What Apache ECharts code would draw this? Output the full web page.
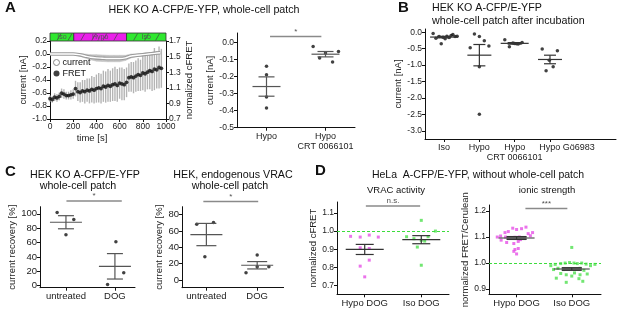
<!DOCTYPE html>
<html>
<head>
<meta charset="utf-8">
<script src="https://cdn.jsdelivr.net/npm/echarts@6/dist/echarts.min.js"></script>
<style>
  html, body { margin: 0; padding: 0; background: #fff; }
  #chart { width: 617px; height: 310px; }
</style>
</head>
<body>
<div id="chart"></div>
<script>
var FONT = 'Liberation Sans';

// ---- A, time course ----
var phaseStart = [0, 205, 660];
var phaseEnd = [205, 660, 1000];
var phaseName = ['Iso', 'Hypo', 'Iso'];

var curTime = [0, 50, 100, 150, 200, 250, 300, 350, 400, 450, 500, 550, 600, 650, 700, 750, 800, 850, 900, 950];
var curVal = [0.0, 0.0, 0.0, 0.0, 0.0, -0.01, -0.03, -0.05, -0.06, -0.065, -0.07, -0.07, -0.07, -0.06, -0.03, -0.02, -0.01, 0.0, 0.01, 0.02];
var curErr = [0.01, 0.01, 0.01, 0.01, 0.01, 0.02, 0.03, 0.04, 0.05, 0.05, 0.05, 0.05, 0.05, 0.04, 0.03, 0.02, 0.02, 0.02, 0.02, 0.02];

var fretTime = [0, 20, 40, 60, 80, 100, 120, 140, 160, 180, 200, 220, 240, 260, 280, 300, 320, 340, 360, 380,
  400, 420, 440, 460, 480, 500, 520, 540, 560, 580, 600, 620, 640, 660, 680, 700, 720, 740, 760, 780,
  800, 820, 840, 860, 880, 900, 920, 940, 960];
var fretVal = [0.96, 0.95, 0.98, 0.97, 0.99, 1.03, 1.02, 1.00, 1.00, 1.01, 1.02, 1.09, 1.05, 1.04, 1.06, 1.05, 1.07, 1.06, 1.08, 1.07,
  1.09, 1.10, 1.09, 1.12, 1.11, 1.13, 1.12, 1.14, 1.15, 1.13, 1.16, 1.15, 1.14, 1.17, 1.23, 1.24, 1.23, 1.25, 1.27, 1.26,
  1.29, 1.28, 1.30, 1.32, 1.31, 1.34, 1.33, 1.36, 1.35];
var fretErr = [0.04, 0.04, 0.05, 0.05, 0.05, 0.06, 0.06, 0.05, 0.05, 0.06, 0.06, 0.10,
  0.12, 0.13, 0.14, 0.15, 0.15, 0.16, 0.17, 0.17, 0.18, 0.19, 0.19, 0.20, 0.20, 0.21, 0.20, 0.21, 0.22, 0.21, 0.20, 0.21, 0.20, 0.19,
  0.18, 0.19, 0.20, 0.20, 0.21, 0.20, 0.22, 0.23, 0.22, 0.24, 0.25, 0.27, 0.24, 0.27, 0.25];

// ---- A, right ----
var aCats = ['Hypo', 'Hypo\nCRT 0066101'];
var aHypo = [-0.14, -0.19, -0.32, -0.385];
var aHypoJit = [0, 0, 0, 0];
var aCrt = [-0.024, -0.053, -0.092, -0.062, -0.115];
var aCrtJit = [-0.21, 0.22, -0.1, 0, 0.12];

// ---- B ----
var bCats = ['Iso', 'Hypo', 'Hypo\nCRT 0066101', 'Hypo Gö6983'];
var bIso = [-0.04, -0.18, -0.13, -0.35, -0.15, -0.2, -0.12, -0.16, -0.1, -0.07, -0.13, -0.12];
var bIsoJit = [-0.31, -0.23, -0.14, -0.08, -0.03, 0.03, 0.08, 0.14, 0.2, 0.25, 0.31, 0.37];
var bHypo = [-0.05, -0.13, -0.26, -0.42, -0.47, -1.05, -2.5];
var bHypoJit = [-0.14, 0, 0.14, 0.27, -0.26, 0, 0];
var bCrt = [-0.23, -0.44, -0.31, -0.33, -0.35, -0.36, -0.34];
var bCrtJit = [-0.28, -0.15, 0.21, -0.05, 0.05, 0.1, 0];
var bGo = [-0.51, -0.56, -0.85, -1.17, -1.05];
var bGoJit = [-0.22, 0.21, -0.02, -0.11, 0.09];

// ---- C ----
var cCats = ['untreated', 'DOG'];
var c1Untr = [102, 92, 71];
var c1UntrJit = [-0.18, 0.16, 0];
var c1Dog = [61, 18, 1.5];
var c1DogJit = [0.02, 0.18, -0.15];
var c2Untr = [68, 70.3, 28.4];
var c2UntrJit = [-0.19, 0.14, -0.03];
var c2Dog = [30.5, 16.3, 16.3, 9];
var c2DogJit = [0, 0, 0.23, -0.22];

// ---- D ----
var dCats = ['Hypo DOG', 'Iso DOG'];
var d1Hypo = [0.971, 0.967, 0.978, 0.967, 0.908, 0.904, 0.84, 0.807, 0.748];
var d1HypoJit = [-0.25, -0.08, 0.08, 0.24, -0.08, 0.08, 0.08, -0.08, 0];
var d1Iso = [1.059, 0.969, 0.958, 0.949, 0.969, 0.945, 0.912, 0.812, 1.0];
var d1IsoJit = [0, -0.26, -0.13, 0, 0.12, 0.06, -0.07, 0, 0.25];
var d2Hypo = [1.104, 1.117, 1.121, 1.134, 1.129, 1.132, 1.138, 1.113, 1.117, 1.10,
  1.100, 1.097, 1.100, 1.097, 1.099, 1.105,
  1.079, 1.075, 1.083, 1.090, 1.052, 1.056, 1.045, 1.035, 1.088];
var d2HypoJit = [-0.29, -0.21, -0.15, -0.07, 0, 0.09, 0.17, 0.21, 0.29, -0.35,
  -0.2, -0.1, 0.05, 0.14, -0.03, 0.25,
  -0.18, -0.05, 0.03, 0.07, -0.03, 0.03, -0.05, 0, -0.28];
var d2Iso = [1.060,
  0.99, 0.995, 0.998, 1.0, 1.002, 1.0, 0.998, 1.0, 0.996, 0.99, 0.995,
  0.98, 0.975, 0.978, 0.975, 0.98, 0.972, 0.975,
  0.955, 0.95, 0.955, 0.942, 0.94, 0.926, 0.93, 0.962, 0.96, 0.958];
var d2IsoJit = [0,
  -0.38, -0.3, -0.2, -0.12, -0.04, 0.04, 0.1, 0.18, 0.26, 0.34, 0.42,
  -0.25, -0.15, -0.05, 0.05, 0.15, 0.22, -0.33,
  -0.1, 0, 0.15, -0.28, 0.13, -0.1, 0.2, 0.05, -0.2, 0.28];

// significance brackets: [x1, x2, y, text]
var sigA = [0.06, 0.93, 0.035, '*'];
var sigC1 = [0.01, 1.14, 118, '*'];
var sigC2 = [-0.06, 1.02, 96, '*'];
var sigD1 = [0.02, 0.98, 1.138, 'n.s.'];
var sigD2 = [0.16, 0.92, 1.21, '***'];

function meanSem(vals) {
  var n = vals.length, m = 0, s = 0;
  vals.forEach(function (v) { m += v; });
  m /= n;
  vals.forEach(function (v) { s += (v - m) * (v - m); });
  return [m, Math.sqrt(s / (n - 1)) / Math.sqrt(n)];
}
function pts(vals, jit, idx) {
  return vals.map(function (v, i) { return [idx + jit[i], v]; });
}
function errItem(vals, idx) {
  var ms = meanSem(vals);
  return [idx, ms[0], ms[1]];
}
function fmt1(v) { if (Math.abs(v) < 1e-9) v = 0; return v.toFixed(1); }

function errBar(meanHalf, capHalf, color, boxFill) {
  return function (params, api) {
    var x = api.value(0), m = api.value(1), s = api.value(2);
    var c = api.coord([x, m]), t = api.coord([x, m + s]), b = api.coord([x, m - s]);
    var st = { stroke: color, lineWidth: 1.2 };
    var ch = [];
    if (boxFill) ch.push({ type: 'rect', shape: { x: c[0] - capHalf, y: t[1], width: capHalf * 2, height: b[1] - t[1] }, style: { fill: boxFill } });
    ch.push({ type: 'line', shape: { x1: c[0], y1: t[1], x2: c[0], y2: b[1] }, style: st });
    ch.push({ type: 'line', shape: { x1: c[0] - capHalf, y1: t[1], x2: c[0] + capHalf, y2: t[1] }, style: st });
    ch.push({ type: 'line', shape: { x1: c[0] - capHalf, y1: b[1], x2: c[0] + capHalf, y2: b[1] }, style: st });
    ch.push({ type: 'line', shape: { x1: c[0] - meanHalf, y1: c[1], x2: c[0] + meanHalf, y2: c[1] }, style: st });
    return { type: 'group', children: ch };
  };
}

function axis(grid, o) {
  var a = {
    type: 'value', gridIndex: grid, min: o.min, max: o.max,
    name: o.name || '', nameLocation: 'middle', nameGap: o.nameGap || 20,
    nameTextStyle: { fontFamily: FONT, fontSize: 9.5, color: '#222', padding: o.namePad || 0 },
    axisLine: { show: true, onZero: false, lineStyle: { color: '#111', width: 1 } },
    axisTick: { show: true, length: 3, lineStyle: { color: '#111' } },
    axisLabel: { fontFamily: FONT, fontSize: o.fs || 8.5, color: '#222', margin: o.margin || 3, lineHeight: 10,
      hideOverlap: false, showMinLabel: true, showMaxLabel: true },
    splitLine: { show: false }
  };
  if (o.position) a.position = o.position;
  if (o.show === false) a.show = false;
  if (o.interval) a.interval = o.interval;
  if (o.fmt) a.axisLabel.formatter = o.fmt;
  if (o.ticks) {
    a.axisTick.customValues = o.ticks;
    a.axisLabel.customValues = o.labels || o.ticks;
  }
  if (o.labelOnly) {
    a.axisLine.show = false;
    a.axisTick.show = false;
  }
  return a;
}
function catFmt(cats) {
  return function (v) { return cats[Math.min(cats.length - 1, Math.round(v))]; };
}

function scatter(xi, yi, data, color, sym, size) {
  return { type: 'scatter', xAxisIndex: xi, yAxisIndex: yi, data: data, symbol: sym || 'circle',
    symbolSize: size || 3.5, itemStyle: { color: color }, silent: true, z: 3 };
}
function errSeries(xi, yi, data, meanHalf, capHalf, color, box) {
  return { type: 'custom', xAxisIndex: xi, yAxisIndex: yi, data: data, silent: true, z: 4,
    renderItem: errBar(meanHalf, capHalf, color, box) };
}
function sigSeries(xi, yi, s) {
  return [
    { type: 'line', xAxisIndex: xi, yAxisIndex: yi, data: [[s[0], s[2]], [s[1], s[2]]], clip: false,
      symbol: 'none', silent: true, lineStyle: { color: '#8a8a8a', width: 1.5 } },
    { type: 'scatter', xAxisIndex: xi, yAxisIndex: yi, data: [[(s[0] + s[1]) / 2, s[2]]], clip: false,
      symbolSize: 0, silent: true,
      label: { show: true, position: 'top', distance: 1, formatter: s[3], fontFamily: FONT, fontSize: 8, color: '#222' } }
  ];
}

var chart = echarts.init(document.getElementById('chart'));

// band segments between consecutive current samples
var bandSeg = [];
for (var i = 0; i < curTime.length - 1; i++) {
  bandSeg.push([curTime[i], curTime[i + 1], curVal[i] - curErr[i], curVal[i] + curErr[i],
    curVal[i + 1] - curErr[i + 1], curVal[i + 1] + curErr[i + 1]]);
}

var series = [
  // A time course
  { type: 'custom', name: 'band', xAxisIndex: 0, yAxisIndex: 0, data: bandSeg, silent: true,
    encode: { x: [0, 1], y: [2, 3, 4, 5] },
    renderItem: function (params, api) {
      var a = api.coord([api.value(0), api.value(2)]), b = api.coord([api.value(0), api.value(3)]);
      var c = api.coord([api.value(1), api.value(5)]), d = api.coord([api.value(1), api.value(4)]);
      return { type: 'polygon', shape: { points: [a, b, c, d] }, style: { fill: '#c2c2c2', stroke: '#c2c2c2', lineWidth: 0.5 } };
    } },
  { type: 'line', name: 'current', xAxisIndex: 0, yAxisIndex: 0, data: curVal.map(function (v, i) { return [curTime[i], v]; }),
    symbol: 'none', smooth: 0.3, lineStyle: { color: '#9a9a9a', width: 3.5 }, itemStyle: { color: '#9a9a9a' }, silent: true },
  { type: 'line', name: 'currentInner', xAxisIndex: 0, yAxisIndex: 0, data: curVal.map(function (v, i) { return [curTime[i], v]; }),
    symbol: 'none', smooth: 0.3, lineStyle: { color: '#fff', width: 1.4 }, silent: true },
  { type: 'custom', name: 'fretErr', xAxisIndex: 0, yAxisIndex: 1, silent: true,
    data: fretVal.map(function (v, i) { return [fretTime[i], v, fretErr[i]]; }),
    renderItem: function (params, api) {
      var t = api.coord([api.value(0), api.value(1) + api.value(2)]);
      var b = api.coord([api.value(0), api.value(1) - api.value(2)]);
      return { type: 'line', shape: { x1: t[0], y1: t[1], x2: b[0], y2: b[1] }, style: { stroke: '#b4b4b4', lineWidth: 1.4 } };
    } },
  { type: 'scatter', name: 'FRET', xAxisIndex: 0, yAxisIndex: 1, data: fretVal.map(function (v, i) { return [fretTime[i], v]; }),
    symbolSize: 3.8, itemStyle: { color: '#111' }, silent: true, z: 3 },
  { type: 'custom', name: 'phase', xAxisIndex: 1, yAxisIndex: 2, silent: true,
    data: phaseStart.map(function (s, i) { return [s, phaseEnd[i]]; }),
    renderItem: function (params, api) {
      var s = api.coord([api.value(0), 1]), e = api.coord([api.value(1), 0]);
      var name = phaseName[params.dataIndex];
      var ch = [{ type: 'rect', shape: { x: s[0], y: s[1], width: e[0] - s[0], height: e[1] - s[1] },
        style: { fill: name === 'Hypo' ? '#ea1fea' : '#2fe82f', stroke: '#333', lineWidth: 0.8 } }];
      for (var hx = s[0] + 7; hx < e[0] - 5; hx += 11) {
        ch.push({ type: 'line', shape: { x1: hx, y1: e[1] - 0.5, x2: hx + 4, y2: s[1] + 0.5 }, style: { stroke: '#444', lineWidth: 0.7 } });
      }
      ch.push({ type: 'text', x: (s[0] + e[0]) / 2, y: (s[1] + e[1]) / 2,
        style: { text: name, align: 'center', verticalAlign: 'middle', textAlign: 'center', textVerticalAlign: 'middle',
          fontFamily: FONT, fontSize: 7, fill: '#555' } });
      return { type: 'group', children: ch };
    } },

  // A right
  scatter(2, 3, pts(aHypo, aHypoJit, 0).concat(pts(aCrt, aCrtJit, 1)), '#111'),
  errSeries(2, 3, [errItem(aHypo, 0), errItem(aCrt, 1)], 14, 8, '#555'),

  // B
  scatter(3, 4, pts(bIso, bIsoJit, 0).concat(pts(bHypo, bHypoJit, 1), pts(bCrt, bCrtJit, 2), pts(bGo, bGoJit, 3)), '#111'),
  errSeries(3, 4, [errItem(bIso, 0), errItem(bCrt, 2)], 14, 7, '#333', '#8c8c8c'),
  errSeries(3, 4, [errItem(bHypo, 1), errItem(bGo, 3)], 12, 6, '#333'),

  // C left
  scatter(4, 5, pts(c1Untr, c1UntrJit, 0).concat(pts(c1Dog, c1DogJit, 1)), '#111'),
  errSeries(4, 5, [errItem(c1Untr, 0), errItem(c1Dog, 1)], 16, 8, '#555'),
  // C right
  scatter(5, 6, pts(c2Untr, c2UntrJit, 0).concat(pts(c2Dog, c2DogJit, 1)), '#111'),
  errSeries(5, 6, [errItem(c2Untr, 0), errItem(c2Dog, 1)], 16, 10, '#555'),

  // D left
  { type: 'scatter', xAxisIndex: 6, yAxisIndex: 7, data: pts(d1Hypo, d1HypoJit, 0), symbol: 'rect', symbolSize: 3,
    itemStyle: { color: '#e650e6' }, silent: true,
    markLine: { silent: true, symbol: 'none', label: { show: false },
      lineStyle: { color: '#3ddc3d', type: [3, 2], width: 1 }, data: [{ yAxis: 1.0 }] } },
  { type: 'scatter', xAxisIndex: 6, yAxisIndex: 7, data: pts(d1Iso, d1IsoJit, 1), symbol: 'rect', symbolSize: 3,
    itemStyle: { color: '#4fe04f' }, silent: true },
  errSeries(6, 7, [errItem(d1Hypo, 0), errItem(d1Iso, 1)], 19, 9, '#333'),

  // D right
  { type: 'scatter', xAxisIndex: 7, yAxisIndex: 8, data: pts(d2Hypo, d2HypoJit, 0), symbol: 'rect', symbolSize: 3,
    itemStyle: { color: '#e650e6' }, silent: true,
    markLine: { silent: true, symbol: 'none', label: { show: false },
      lineStyle: { color: '#3ddc3d', type: [3, 2], width: 1 }, data: [{ yAxis: 1.0 }] } },
  { type: 'scatter', xAxisIndex: 7, yAxisIndex: 8, data: pts(d2Iso, d2IsoJit, 1), symbol: 'rect', symbolSize: 3,
    itemStyle: { color: '#4fe04f' }, silent: true },
  errSeries(7, 8, [errItem(d2Hypo, 0), errItem(d2Iso, 1)], 18, 10, '#333', '#8c8c8c')
];
series = series.concat(sigSeries(2, 3, sigA), sigSeries(4, 5, sigC1), sigSeries(5, 6, sigC2),
  sigSeries(6, 7, sigD1), sigSeries(7, 8, sigD2));

function txt(x, y, s, size, align, bold) {
  return { type: 'text', x: x, y: y, silent: true,
    style: { text: s, fontFamily: FONT, fontSize: size, fontWeight: bold ? 'bold' : 'normal', fill: '#111',
      align: align || 'center', verticalAlign: 'middle', textAlign: align || 'center', textVerticalAlign: 'middle' } };
}

var option = {
  animation: false,
  backgroundColor: '#fff',
  textStyle: { fontFamily: FONT },
  grid: [
    { left: 50, top: 41, width: 116, height: 78 },      // A time course
    { left: 50, top: 33, width: 116, height: 8 },       // A phase bar
    { left: 237, top: 33, width: 118, height: 94.7 },   // A right
    { left: 425, top: 29, width: 191, height: 110 },    // B
    { left: 40, top: 206.7, width: 95, height: 81 },    // C left
    { left: 182, top: 206.7, width: 101.6, height: 81 },// C right
    { left: 337, top: 202, width: 112, height: 92.3 },  // D left
    { left: 489, top: 205, width: 112, height: 89.3 }   // D right
  ],
  xAxis: [
    axis(0, { min: 0, max: 1000, interval: 200, fmt: function (v) { return String(v); },
      name: 'time [s]', nameGap: 12, namePad: [0, 32, 0, 0] }),
    axis(1, { min: 0, max: 1000, show: false }),
    axis(2, { min: -0.5, max: 1.5, ticks: [0, 1], fmt: catFmt(aCats), fs: 9, margin: 4 }),
    // last B label sits a little right of its tick
    axis(3, { min: -0.54, max: 4.87, ticks: [0, 1, 2, 3], labels: [0, 1, 3.48], fmt: catFmt(bCats), fs: 9, margin: 4,
      position: 'bottom' }),
    axis(4, { min: -0.53, max: 1.41, ticks: [0, 1], fmt: catFmt(cCats), fs: 9.5, margin: 4 }),
    axis(5, { min: -0.48, max: 1.52, ticks: [0, 1], fmt: catFmt(cCats), fs: 9.5, margin: 4 }),
    axis(6, { min: -0.49, max: 1.49, ticks: [0, 1], fmt: catFmt(dCats), fs: 9.5, margin: 4 }),
    axis(7, { min: -0.5, max: 1.53, ticks: [0, 1], fmt: catFmt(dCats), fs: 9.5, margin: 4 }),
    // two-line B label on its own axis so it is not dropped for overlap
    axis(3, { min: -0.54, max: 4.87, ticks: [2], fmt: catFmt(bCats), fs: 9, margin: 4, position: 'bottom', labelOnly: true })
  ],
  yAxis: [
    axis(0, { min: -1.0, max: 0.2, interval: 0.2, fmt: fmt1, name: 'current [nA]', nameGap: 12 }),
    axis(0, { min: 0.7, max: 1.7, position: 'right', ticks: [0.7, 0.9, 1.1, 1.3, 1.5, 1.7], fmt: fmt1,
      name: 'normalized cFRET', nameGap: 17 }),
    axis(1, { min: 0, max: 1, show: false }),
    axis(2, { min: -0.5, max: 0.055, ticks: [-0.5, -0.4, -0.3, -0.2, -0.1, 0], fmt: fmt1, name: 'current [nA]', nameGap: 10 }),
    axis(3, { min: -3.25, max: 0.1, ticks: [-3, -2.5, -2, -1.5, -1, -0.5, 0], fmt: fmt1, name: 'current [nA]', nameGap: 22 }),
    axis(4, { min: -3, max: 110, ticks: [0, 20, 40, 60, 80, 100], name: 'current recovery [%]', nameGap: 14, fs: 9.5 }),
    axis(5, { min: -9.4, max: 89.6, ticks: [0, 20, 40, 60, 80], name: 'current recovery [%]', nameGap: 12, fs: 9.5 }),
    axis(6, { min: 0.652, max: 1.16, ticks: [0.7, 0.8, 0.9, 1.0, 1.1], fmt: fmt1, name: 'normalized cFRET', nameGap: 13 }),
    axis(7, { min: 0.88, max: 1.223, ticks: [0.9, 1.0, 1.1, 1.2], fmt: fmt1, name: 'normalized FRET/Cerulean', nameGap: 12 })
  ],
  legend: {
    left: 53, top: 58, orient: 'vertical', itemWidth: 6, itemHeight: 6, itemGap: 2, padding: 0,
    textStyle: { fontFamily: FONT, fontSize: 9, color: '#111', padding: [0, 0, 0, -2] },
    data: [
      { name: 'current', icon: 'circle', itemStyle: { color: '#fff', borderColor: '#888', borderWidth: 1 } },
      { name: 'FRET', icon: 'circle', itemStyle: { color: '#111' } }
    ]
  },
  graphic: [
    txt(5, 8, 'A', 15, 'left', true),
    txt(204, 10, 'HEK KO A-CFP/E-YFP, whole-cell patch', 10.7),
    txt(398, 8, 'B', 15, 'left', true),
    txt(432, 8, 'HEK KO A-CFP/E-YFP', 10.7, 'left'),
    txt(432, 21, 'whole-cell patch after incubation', 10.7, 'left'),
    txt(5, 172, 'C', 15, 'left', true),
    txt(85, 175, 'HEK KO A-CFP/E-YFP', 10.7),
    txt(78, 186, 'whole-cell patch', 10.7),
    txt(233, 175, 'HEK, endogenous VRAC', 10.7),
    txt(230, 186, 'whole-cell patch', 10.7),
    txt(315, 171, 'D', 15, 'left', true),
    txt(478, 175, 'HeLa  A-CFP/E-YFP, without whole-cell patch', 10.5),
    txt(396, 190, 'VRAC activity', 9.5),
    txt(547, 190, 'ionic strength', 9.5)
  ],
  series: series
};
chart.setOption(option);
</script>
</body>
</html>
